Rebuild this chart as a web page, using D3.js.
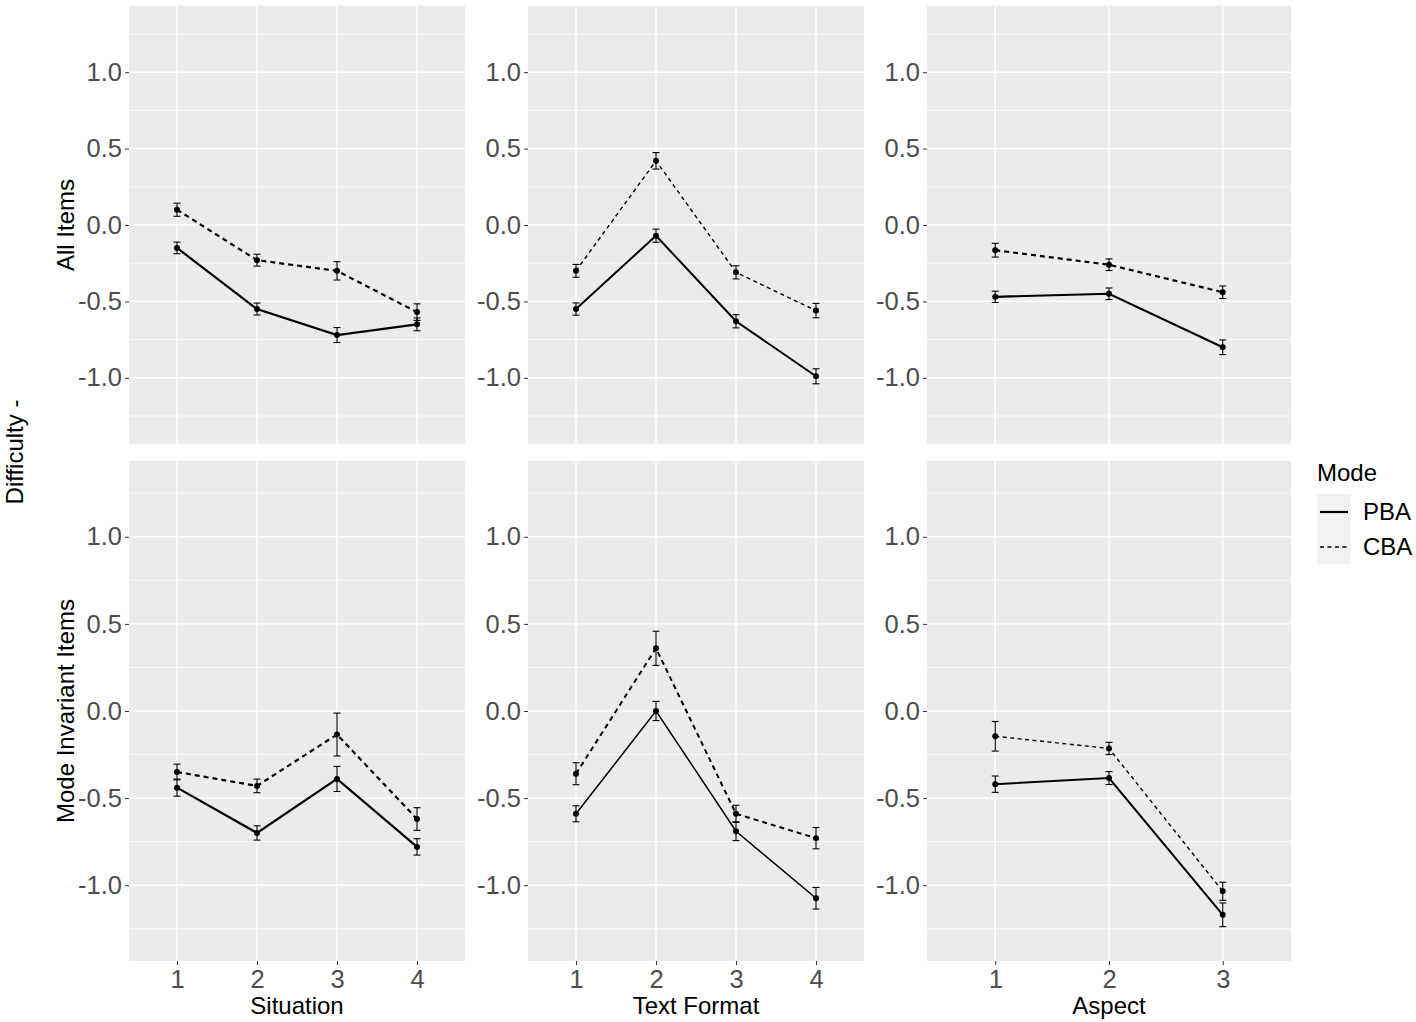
<!DOCTYPE html>
<html>
<head>
<meta charset="utf-8">
<script src="https://cdn.jsdelivr.net/npm/d3@7"></script>
<style>
  html, body { margin: 0; padding: 0; background: #ffffff; }
  svg { display: block; }
  text { font-family: "Liberation Sans", Arial, sans-serif; }
</style>
</head>
<body>
<svg id="chart" width="1416" height="1022"></svg>
<script>
// ---------- data ----------
const rowTitles = ["All Items", "Mode Invariant Items"];
const colTitles = ["Situation", "Text Format", "Aspect"];
const situationLevels = ["1", "2", "3", "4"];
const textFormatLevels = ["1", "2", "3", "4"];
const aspectLevels = ["1", "2", "3"];
const modes = ["PBA", "CBA"];
const yTicks = [-1.0, -0.5, 0.0, 0.5, 1.0];
const yMinorTicks = [-1.25, -0.75, -0.25, 0.25, 0.75, 1.25];

// All Items
const allSituationPBA = [-0.15, -0.55, -0.72, -0.65];
const allSituationPBAse = [0.038, 0.039, 0.049, 0.042];
const allSituationCBA = [0.10, -0.23, -0.30, -0.57];
const allSituationCBAse = [0.043, 0.039, 0.060, 0.054];
const allTextPBA = [-0.55, -0.07, -0.63, -0.99];
const allTextPBAse = [0.040, 0.043, 0.043, 0.049];
const allTextCBA = [-0.30, 0.42, -0.31, -0.56];
const allTextCBAse = [0.042, 0.054, 0.043, 0.047];
const allAspectPBA = [-0.47, -0.45, -0.80];
const allAspectPBAse = [0.037, 0.038, 0.048];
const allAspectCBA = [-0.165, -0.26, -0.44];
const allAspectCBAse = [0.045, 0.038, 0.041];
// Mode Invariant Items
const invSituationPBA = [-0.44, -0.70, -0.39, -0.78];
const invSituationPBAse = [0.049, 0.041, 0.072, 0.047];
const invSituationCBA = [-0.35, -0.43, -0.135, -0.62];
const invSituationCBAse = [0.045, 0.039, 0.123, 0.065];
const invTextPBA = [-0.59, 0.0, -0.69, -1.075];
const invTextPBAse = [0.046, 0.055, 0.054, 0.062];
const invTextCBA = [-0.36, 0.36, -0.59, -0.73];
const invTextCBAse = [0.063, 0.098, 0.049, 0.061];
const invAspectPBA = [-0.42, -0.385, -1.17];
const invAspectPBAse = [0.047, 0.037, 0.068];
const invAspectCBA = [-0.145, -0.215, -1.035];
const invAspectCBAse = [0.085, 0.035, 0.052];

// ---------- panel table built from the arrays ----------
const panels = [
  {row: 0, col: 0, levels: situationLevels, series: [[allSituationPBA, allSituationPBAse], [allSituationCBA, allSituationCBAse]]},
  {row: 0, col: 1, levels: textFormatLevels, series: [[allTextPBA, allTextPBAse], [allTextCBA, allTextCBAse]]},
  {row: 0, col: 2, levels: aspectLevels, series: [[allAspectPBA, allAspectPBAse], [allAspectCBA, allAspectCBAse]]},
  {row: 1, col: 0, levels: situationLevels, series: [[invSituationPBA, invSituationPBAse], [invSituationCBA, invSituationCBAse]]},
  {row: 1, col: 1, levels: textFormatLevels, series: [[invTextPBA, invTextPBAse], [invTextCBA, invTextCBAse]]},
  {row: 1, col: 2, levels: aspectLevels, series: [[invAspectPBA, invAspectPBAse], [invAspectCBA, invAspectCBAse]]}
];

// ---------- layout / style ----------
const colX = [[129, 465], [528, 864], [927, 1291]];
const rowY = [[5.7, 444.3], [461, 961]];
const yDomain = [-1.435, 1.435];
const lineWidths = [[2.2, 2.2], [2.0, 1.4], [2.2, 2.2], [2.2, 2.2], [1.5, 2.0], [2.0, 1.4]];
const dashFor = (m, w) => m === 1 ? (w < 1.8 ? "4,3.5" : "5,4") : null;

const svg = d3.select("#chart");
const fmt = d => (d < 0 ? "-" : "") + Math.abs(d).toFixed(1);

panels.forEach((p, pi) => {
  const [x0, x1] = colX[p.col];
  const [y0, y1] = rowY[p.row];
  const x = d3.scalePoint().domain(p.levels).range([x0, x1]).padding(0.6);
  const y = d3.scaleLinear().domain(yDomain).range([y1, y0]);
  const g = svg.append("g");

  g.append("rect").attr("x", x0).attr("y", y0).attr("width", x1 - x0).attr("height", y1 - y0)
    .attr("fill", "#EBEBEB");

  g.selectAll(".ymin").data(yMinorTicks).join("line")
    .attr("x1", x0).attr("x2", x1).attr("y1", d => y(d)).attr("y2", d => y(d))
    .attr("stroke", "#ffffff").attr("stroke-width", 0.8);
  g.selectAll(".ymaj").data(yTicks).join("line")
    .attr("x1", x0).attr("x2", x1).attr("y1", d => y(d)).attr("y2", d => y(d))
    .attr("stroke", "#ffffff").attr("stroke-width", 1.4);
  g.selectAll(".xmaj").data(p.levels).join("line")
    .attr("x1", d => x(d)).attr("x2", d => x(d)).attr("y1", y0).attr("y2", y1)
    .attr("stroke", "#ffffff").attr("stroke-width", 1.4);

  const yAxis = d3.axisLeft(y).tickValues(yTicks).tickFormat(fmt).tickSize(4).tickPadding(3);
  const ya = g.append("g").attr("transform", `translate(${x0},0)`).call(yAxis);
  ya.select(".domain").remove();
  ya.selectAll(".tick line").attr("stroke", "#333333").attr("stroke-width", 1);
  ya.selectAll(".tick text").attr("fill", "#4D4D4D").style("font-size", "25.5px")
    .style("font-family", "'Liberation Sans', Arial, sans-serif");

  if (p.row === 1) {
    const xAxis = d3.axisBottom(x).tickSize(4).tickPadding(5);
    const xa = g.append("g").attr("transform", `translate(0,${y1})`).call(xAxis);
    xa.select(".domain").remove();
    xa.selectAll(".tick line").attr("stroke", "#333333").attr("stroke-width", 1);
    xa.selectAll(".tick text").attr("fill", "#4D4D4D").style("font-size", "25.5px")
      .style("font-family", "'Liberation Sans', Arial, sans-serif");
    g.append("text").attr("x", (x0 + x1) / 2).attr("y", 1014).attr("text-anchor", "middle")
      .attr("fill", "#000").style("font-size", "24px").text(colTitles[p.col]);
  }

  p.series.forEach((s, m) => {
    const [vals, ses] = s;
    const pts = p.levels.map((lv, i) => ({lv, v: vals[i], se: ses[i]}));
    const w = lineWidths[pi][m];
    const line = d3.line().x(d => x(d.lv)).y(d => y(d.v));
    g.append("path").datum(pts).attr("d", line).attr("fill", "none")
      .attr("stroke", "#000").attr("stroke-width", w)
      .attr("stroke-dasharray", dashFor(m, w));
    const eb = g.append("g");
    pts.forEach(d => {
      const cx = x(d.lv);
      eb.append("line").attr("x1", cx).attr("x2", cx).attr("y1", y(d.v - d.se)).attr("y2", y(d.v + d.se))
        .attr("stroke", "#000").attr("stroke-width", 1.1);
      [d.v - d.se, d.v + d.se].forEach(e => {
        eb.append("line").attr("x1", cx - 3.5).attr("x2", cx + 3.5).attr("y1", y(e)).attr("y2", y(e))
          .attr("stroke", "#000").attr("stroke-width", 1.1);
      });
    });
    g.selectAll(null).data(pts).join("circle")
      .attr("cx", d => x(d.lv)).attr("cy", d => y(d.v)).attr("r", 3).attr("fill", "#000");
  });
});

rowTitles.forEach((t, r) => {
  const cy = (rowY[r][0] + rowY[r][1]) / 2;
  svg.append("text").attr("transform", `translate(74,${cy}) rotate(-90)`)
    .attr("text-anchor", "middle").attr("fill", "#000").style("font-size", "24px").text(t);
});
svg.append("text").attr("transform", `translate(23,452) rotate(-90)`)
  .attr("text-anchor", "middle").attr("fill", "#000").style("font-size", "24px").text("Difficulty -");

const lg = svg.append("g");
lg.append("text").attr("x", 1317).attr("y", 481).attr("fill", "#000").style("font-size", "24px").text("Mode");
modes.forEach((m, i) => {
  const ky = 494 + i * 35;
  lg.append("rect").attr("x", 1317).attr("y", ky).attr("width", 34).attr("height", 35).attr("fill", "#F2F2F2");
  lg.append("line").attr("x1", 1320).attr("x2", 1348).attr("y1", ky + 18).attr("y2", ky + 18)
    .attr("stroke", "#000").attr("stroke-width", i === 0 ? 2.2 : 1.6)
    .attr("stroke-dasharray", i === 1 ? "4,3.5" : null);
  lg.append("text").attr("x", 1363).attr("y", ky + 26).attr("fill", "#000").style("font-size", "24px").text(m);
});
</script>
</body>
</html>
